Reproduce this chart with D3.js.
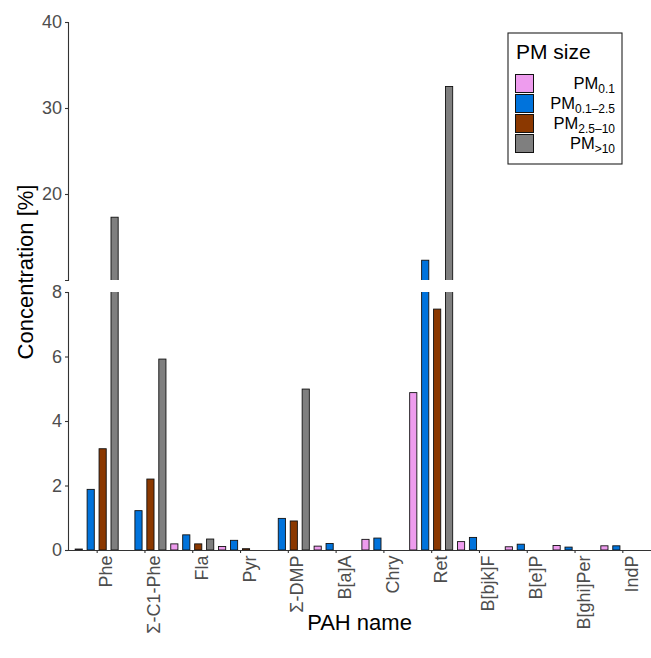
<!DOCTYPE html>
<html>
<head>
<meta charset="utf-8">
<script src="https://cdn.jsdelivr.net/npm/d3@7"></script>
<style>
  body { margin: 0; background: #fff; }
  svg { display: block; font-family: "Liberation Sans", Arial, sans-serif; }
  .tick-label { fill: #4d4d4d; font-size: 18px; }
</style>
</head>
<body>
<div id="chart"></div>
<script>
'use strict';

// PAH compounds on the x axis
var categories = ["Phe", "Σ-C1-Phe", "Fla", "Pyr", "Σ-DMP", "B[a]A", "Chry", "Ret", "B[bjk]F", "B[e]P", "B[ghi]Per", "IndP"];

// concentration [%] per size fraction, null = no bar
var pm01     = [0.03, null, 0.19, 0.11, null, 0.12, 0.33, 4.88, 0.26, 0.10, 0.14, 0.13];
var pm01to25 = [1.88, 1.22, 0.47, 0.30, 0.98, 0.20, 0.37, 12.3, 0.39, 0.18, 0.09, 0.13];
var pm25to10 = [3.14, 2.20, 0.19, 0.04, 0.90, null, null, 7.47, null, null, null, null];
var pmOver10 = [17.3, 5.92, 0.34, null, 4.99, null, null, 32.5, null, null, null, null];

var seriesKeys = ["pm01", "pm01to25", "pm25to10", "pmOver10"];
var seriesSubs = ["0.1", "0.1\u20132.5", "2.5\u201310", ">10"];
var seriesColors = ["#ee9cee", "#0073dc", "#8b3800", "#7f7f7f"];
var seriesValues = [pm01, pm01to25, pm25to10, pmOver10];

// broken y axis: lower and upper segment ticks
var lowerTicks = [0, 2, 4, 6, 8];
var upperTicks = [20, 30, 40];

function chart() {

  var scope = this;
  var exports = {};

  scope.width = 651;
  scope.height = 658;
  scope.plot = { left: 68, right: 651 };

  scope.xScale = d3.scalePoint()
    .domain(categories)
    .range([scope.plot.left, scope.plot.right])
    .padding(0.6);

  scope.step = scope.xScale.step();

  scope.subScale = d3.scaleBand()
    .domain(seriesKeys)
    .range([-scope.step / 2, scope.step / 2])
    .paddingInner(0.4)
    .paddingOuter(0.2);

  scope.yLower = d3.scaleLinear().domain([0, 8]).range([550, 292]);
  scope.yUpper = d3.scaleLinear().domain([10, 40]).range([280, 22]);

  scope.appendSVG = function(DOMObj) {
    return d3.select(DOMObj)
      .append("svg")
      .attr("width", scope.width)
      .attr("height", scope.height);
  }

  scope.appendClips = function(svg) {
    var defs = svg.append("defs");
    defs.append("clipPath").attr("id", "clip-lower")
      .append("rect").attr("x", 0).attr("y", scope.yLower(8)).attr("width", scope.width).attr("height", 300);
    defs.append("clipPath").attr("id", "clip-upper")
      .append("rect").attr("x", 0).attr("y", 0).attr("width", scope.width).attr("height", scope.yUpper(10));
  }

  // each value gets a bar in the lower panel, and one in the upper panel if it passes the break
  scope.buildBars = function(upper) {
    var bars = [];
    categories.forEach(function(cat, i) {
      seriesKeys.forEach(function(key, s) {
        var v = seriesValues[s][i];
        if (v === null) return;
        if (upper && v <= 10) return;
        bars.push({ cat: cat, key: key, color: seriesColors[s], value: v });
      });
    });
    return bars;
  }

  scope.appendBars = function(svg, scale, upper) {
    svg.append("g")
      .attr("class", upper ? "bars-upper" : "bars-lower")
      .attr("clip-path", upper ? "url(#clip-upper)" : "url(#clip-lower)")
      .selectAll("rect")
      .data(scope.buildBars(upper))
      .enter()
      .append("rect")
      .attr("x", function(d) { return scope.xScale(d.cat) + scope.subScale(d.key); })
      .attr("width", scope.subScale.bandwidth())
      .attr("y", function(d) { return scale(d.value); })
      .attr("height", function(d) { return scale(0) - scale(d.value); })
      .style("fill", function(d) { return d.color; })
      .style("stroke", "#111")
      .style("stroke-width", 0.9);
  }

  scope.appendYAxis = function(svg, scale, ticks) {
    var g = svg.append("g")
      .attr("class", "axis axis--y")
      .attr("transform", "translate(" + scope.plot.left + ",0)")
      .call(d3.axisLeft(scale).tickValues(ticks).tickSize(3).tickPadding(3));
    g.select(".domain").attr("stroke", "#333").attr("stroke-width", 1.1);
    g.selectAll(".tick line").attr("stroke", "#333").attr("stroke-width", 1.1);
    g.selectAll(".tick text").attr("class", "tick-label").attr("font-family", null).attr("font-size", null);
  }

  scope.appendXAxis = function(svg) {
    var g = svg.append("g")
      .attr("class", "axis axis--x")
      .attr("transform", "translate(0,550)")
      .call(d3.axisBottom(scope.xScale).tickSize(3).tickSizeOuter(0));
    g.select(".domain").attr("stroke", "#333").attr("stroke-width", 1.1);
    g.selectAll(".tick line").attr("stroke", "#333").attr("stroke-width", 1.1);
    g.selectAll(".tick text")
      .attr("class", "tick-label")
      .attr("font-family", null)
      .attr("font-size", null)
      .attr("text-anchor", "end")
      .attr("transform", "rotate(-90)")
      .attr("x", -5.5)
      .attr("y", 15)
      .attr("dy", 0);
  }

  scope.appendTitles = function(svg) {
    svg.append("text")
      .attr("transform", "translate(33,272) rotate(-90)")
      .attr("text-anchor", "middle")
      .style("font-size", "22px")
      .style("fill", "#000")
      .text("Concentration [%]");

    svg.append("text")
      .attr("x", (scope.plot.left + scope.plot.right) / 2)
      .attr("y", 630)
      .attr("text-anchor", "middle")
      .style("font-size", "22px")
      .style("fill", "#000")
      .text("PAH name");
  }

  scope.appendLegend = function(svg) {
    var lg = svg.append("g").attr("class", "legend");

    lg.append("rect")
      .attr("x", 508).attr("y", 33)
      .attr("width", 114).attr("height", 131)
      .style("fill", "#fff")
      .style("stroke", "#222")
      .style("stroke-width", 1.1);

    lg.append("text")
      .attr("x", 516).attr("y", 59)
      .style("font-size", "21px")
      .text("PM size");

    var item = lg.selectAll(".item")
      .data(seriesKeys)
      .enter()
      .append("g")
      .attr("class", "item")
      .attr("transform", function(d, i) { return "translate(0," + (74 + i * 20) + ")"; });

    item.append("rect")
      .attr("x", 515.5).attr("y", 0.5)
      .attr("width", 18).attr("height", 18)
      .style("fill", function(d, i) { return seriesColors[i]; })
      .style("stroke", "#111")
      .style("stroke-width", 1);

    var label = item.append("text")
      .attr("x", 615)
      .attr("y", 14.5)
      .attr("text-anchor", "end")
      .style("fill", "#000");

    label.append("tspan")
      .style("font-size", "16.5px")
      .text("PM");

    label.append("tspan")
      .attr("dy", 4)
      .style("font-size", "12px")
      .text(function(d, i) { return seriesSubs[i]; });
  }

  exports.run = function(DOMObj) {
    var svg = scope.appendSVG(DOMObj);
    scope.appendClips(svg);
    scope.appendBars(svg, scope.yLower, false);
    scope.appendBars(svg, scope.yUpper, true);
    scope.appendYAxis(svg, scope.yLower, lowerTicks);
    scope.appendYAxis(svg, scope.yUpper, upperTicks);
    scope.appendXAxis(svg);
    scope.appendTitles(svg);
    scope.appendLegend(svg);
  }
  return exports;
}

chart.call({}).run("#chart");
</script>
</body>
</html>
